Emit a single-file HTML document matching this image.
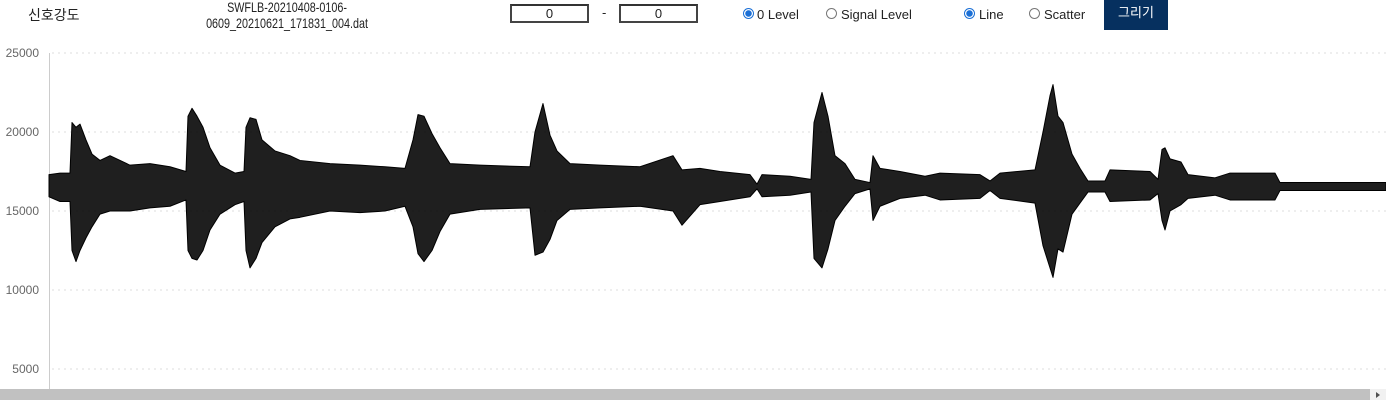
<!DOCTYPE html>
<html><head><meta charset="utf-8"><style>
body{margin:0;width:1386px;height:400px;overflow:hidden;background:#fff;font-family:"Liberation Sans","Noto Sans CJK KR",sans-serif;position:relative}
.a{position:absolute;font-size:13px;color:#222;white-space:nowrap}
.inp{position:absolute;top:4px;width:75px;height:15px;border:2px solid #444;border-top-color:#333;text-align:center;font-size:13px;line-height:15px;color:#222}
.rad{position:absolute;top:8px;width:11px;height:11px;border-radius:50%;border:1px solid #777;box-sizing:border-box;background:#fff}
.rad.on{border:1px solid #1a6fd6;background:radial-gradient(circle,#1a6fd6 0 3px,#fff 3.5px)}
</style></head><body>
<div class="a" style="left:28px;top:5px;font-size:14px">신호강도</div>
<div class="a" style="left:177px;top:-1px;text-align:center;line-height:16px;width:220px;font-size:14px;transform:scaleX(0.77);transform-origin:center">SWFLB-20210408-0106-<br>0609_20210621_171831_004.dat</div>
<div class="inp" style="left:510px">0</div>
<div class="a" style="left:602px;top:5px">-</div>
<div class="inp" style="left:619px">0</div>
<div class="rad on" style="left:743px"></div>
<div class="a" style="left:757px;top:7px">0 Level</div>
<div class="rad" style="left:826px"></div>
<div class="a" style="left:841px;top:7px">Signal Level</div>
<div class="rad on" style="left:964px"></div>
<div class="a" style="left:979px;top:7px">Line</div>
<div class="rad" style="left:1029px"></div>
<div class="a" style="left:1044px;top:7px">Scatter</div>
<div style="position:absolute;left:1104px;top:0;width:64px;height:30px;background:#06305f;color:#fff;font-size:13px;text-align:center;line-height:26px">그리기</div>
<svg id="chart" width="1386" height="400" style="position:absolute;left:0;top:0"></svg>
<div style="position:absolute;left:0;top:389px;width:1386px;height:11px;background:#c1c1c1"></div>
<div style="position:absolute;left:1370px;top:389px;width:16px;height:11px;background:#f1f1f1"><div style="position:absolute;left:6px;top:3px;border-left:4px solid #505050;border-top:3px solid transparent;border-bottom:3px solid transparent"></div></div>
<script>
const yTicks=[5000,10000,15000,20000,25000];
const sampleT=[0,11,21,23,27,31,37,43,51,61,81,101,121,137,139,143,148,154,161,171,186,195,197,201,207,213,226,241,251,281,311,336,356,364,369,375,383,391,401,431,481,486,494,501,508,521,551,591,624,633,651,671,701,708,713,741,762,765,773,779,786,796,806,821,824,831,851,876,891,931,941,951,986,994,1001,1004,1009,1014,1023,1031,1039,1056,1061,1101,1109,1113,1116,1121,1132,1139,1166,1181,1226,1231,1337];
const hiVals=[17300,17400,17400,20600,20300,20500,19500,18600,18200,18500,17900,18000,17800,17500,21000,21500,21000,20300,19000,17900,17400,17500,20300,20900,20800,19500,18800,18500,18200,18000,17900,17800,17700,19500,21100,21000,19900,19000,18000,17900,17800,20000,21800,19800,18800,18000,17900,17800,18500,17600,17700,17500,17300,16700,17300,17200,17000,20600,22500,21000,18500,18000,17000,16800,18500,17700,17500,17200,17400,17300,16900,17400,17600,20000,22300,23000,21000,20600,18600,17700,16900,16900,17600,17500,17000,18900,19000,18300,18100,17300,17100,17400,17400,16800,16800];
const loVals=[15900,15600,15600,12500,11800,12500,13300,14000,14800,15000,15000,15200,15300,15700,12500,12000,11900,12500,13800,14800,15400,15600,12500,11400,12000,13000,14000,14500,14600,15000,14900,15000,15300,14000,12300,11800,12500,13700,14800,15100,15200,12200,12400,13200,14400,15100,15200,15300,15000,14100,15400,15600,15900,16400,15900,16000,16200,12000,11400,12600,14400,15300,16100,16400,14400,15300,15800,16000,15700,15800,16300,15800,15500,12800,11400,10800,12600,12400,14800,15500,16200,16200,15600,15700,16100,14400,13800,15000,15400,15800,16000,15700,15700,16300,16300];
const NS='http://www.w3.org/2000/svg';
const svg=document.getElementById('chart');
const X0=49,X1=1386,Y0=53;
const xS=t=>X0+(t-0)/(1337-0)*(X1-X0);
const yS=v=>Y0+(25000-v)/5000*79;
yTicks.forEach(v=>{
 const g=document.createElementNS(NS,'line');
 
 
 g.setAttribute('x1',52);g.setAttribute('x2',1386);g.setAttribute('y1',yS(v));g.setAttribute('y2',yS(v));
 g.setAttribute('stroke','#ddd');g.setAttribute('stroke-dasharray','2,4');svg.appendChild(g);
 const t=document.createElementNS(NS,'text');
 
 
 t.setAttribute('x',39);t.setAttribute('y',yS(v)+4);t.setAttribute('text-anchor','end');
 t.setAttribute('font-size','12');t.setAttribute('fill','#666');t.setAttribute('font-family','Liberation Sans, sans-serif');
 t.textContent=v;svg.appendChild(t);
});
const ax=document.createElementNS(NS,'line');


ax.setAttribute('x1',49.5);ax.setAttribute('x2',49.5);ax.setAttribute('y1',53);ax.setAttribute('y2',389);ax.setAttribute('stroke','#ccc');svg.appendChild(ax);
let pts=sampleT.map((t,i)=>xS(t)+','+yS(hiVals[i]));
for(let i=sampleT.length-1;i>=0;i--)pts.push(xS(sampleT[i])+','+yS(loVals[i]));
const p=document.createElementNS(NS,'polygon');


p.setAttribute('points',pts.join(' '));p.setAttribute('fill','#000');p.setAttribute('fill-opacity','0.88');
p.setAttribute('stroke','#000');p.setAttribute('stroke-width','1');p.setAttribute('stroke-linejoin','round');
svg.appendChild(p);
</script>
</body></html>
